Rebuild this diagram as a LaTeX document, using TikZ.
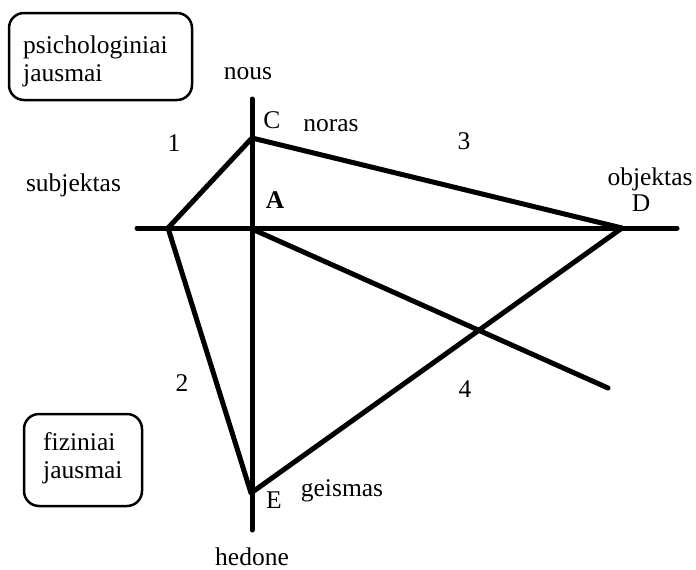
\documentclass[tikz,border=0pt]{standalone}
\usepackage{fontspec}
\setmainfont{Liberation Serif}
\begin{document}
\begin{tikzpicture}[x=1pt,y=-1pt,
  lbl/.style={inner sep=0pt, font=\fontsize{25.5}{28}\selectfont},
  heavy/.style={line width=5pt, line cap=round, line join=round},
  roundbox/.style={draw, line width=2.5pt, rounded corners=15pt, inner sep=0pt}]
\useasboundingbox (0,0) rectangle (696,570);
\fill[white] (0,0) rectangle (696,570);
% points
\coordinate (top) at (252,99);
\coordinate (bot) at (252,530);
\coordinate (left) at (137,228);
\coordinate (right) at (677,228);
\coordinate (B) at (168,228);
\coordinate (C) at (252,138);
\coordinate (D) at (622,228);
\coordinate (E) at (251,493);
\coordinate (A) at (252,229);
\coordinate (F) at (608,388);
% axes
\draw[heavy] (top) -- (bot);
\draw[heavy] (left) -- (right);
% quadrilateral
\draw[heavy] (B) -- (C) -- (D) -- (E) -- cycle;
\draw[heavy] (A) -- (F);
% boxes
\node[roundbox, minimum width=183pt, minimum height=87pt] (psybox) at (100.5,56.5) {};
\node[lbl, anchor=west, align=left] (psytext) at (23,61) {psichologiniai\\jausmai};
\node[roundbox, minimum width=118pt, minimum height=92pt] (fizbox) at (83,460) {};
\node[lbl, anchor=west, align=left] (fiztext) at (43,458) {fiziniai\\jausmai};
% labels
\node[lbl] (nous) at (248,73.5) {nous};
\node[lbl] (lC) at (272,120.5) {C};
\node[lbl] (noras) at (331,126) {noras};
\node[lbl] (l1) at (174,143) {1};
\node[lbl] (l3) at (464,141) {3};
\node[lbl] (subj) at (73.5,185) {subjektas};
\node[lbl, font=\fontsize{25.5}{28}\selectfont\bfseries] (lA) at (275,200) {A};
\node[lbl] (obj) at (650,179) {objektas};
\node[lbl] (lD) at (641,203) {D};
\node[lbl] (l2) at (182,383) {2};
\node[lbl] (l4) at (465,389) {4};
\node[lbl] (lE) at (274,500) {E};
\node[lbl] (geis) at (342,491) {geismas};
\node[lbl] (hed) at (252,557) {hedone};
\end{tikzpicture}
\end{document}
